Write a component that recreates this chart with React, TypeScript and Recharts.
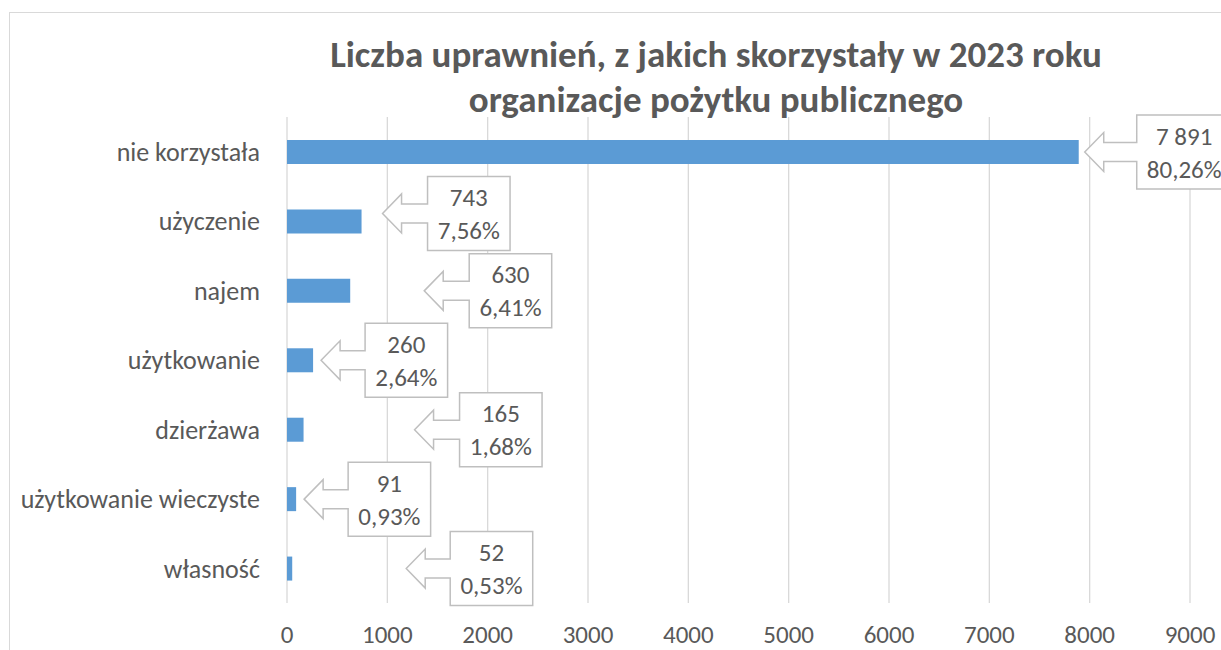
import { BarChart, Bar, XAxis, YAxis, CartesianGrid, LabelList } from 'recharts'

const FONT = 'Calibri, Carlito, Lato, sans-serif'
const TEXT = '#595959'
const GRID = '#d9d9d9'

const categories = [
  'nie korzystała',
  'użyczenie',
  'najem',
  'użytkowanie',
  'dzierżawa',
  'użytkowanie wieczyste',
  'własność',
]
const counts = [7891, 743, 630, 260, 165, 91, 52]
const shares = ['80,26%', '7,56%', '6,41%', '2,64%', '1,68%', '0,93%', '0,53%']
const xTicks = [0, 1000, 2000, 3000, 4000, 5000, 6000, 7000, 8000, 9000]

// where Excel dropped each callout: gap from bar end to arrow tip, vertical shift, shaft length
const calloutGap = [6, 21, 74, 8, 111, 8, 114]
const calloutDy = [0, -8, 0, 0, 0, 0, 0]
const calloutShaft = [33, 26, 26, 25, 26, 25, 25]

const data = categories.map((name, i) => ({ name, value: counts[i], share: shares[i] }))

const fmt = (v: number) => String(v).replace(/\B(?=(\d{3})+(?!\d))/g, ' ')

function Callout(props: any) {
  const { x, y, width, height, index } = props
  const tipX = Number(x) + Number(width) + calloutGap[index]
  const cy = Number(y) + Number(height) / 2 + calloutDy[index]
  const headLen = 19
  const headH = 19.5
  const shaftH = 9.5
  const boxH = 37
  const baseX = tipX + headLen
  const boxL = baseX + calloutShaft[index]
  const label = shares[index]
  const boxW = 20 + 12.5 * label.length
  const d = [
    `M${tipX},${cy}`,
    `L${baseX},${cy - headH}`,
    `L${baseX},${cy - shaftH}`,
    `L${boxL},${cy - shaftH}`,
    `L${boxL},${cy - boxH}`,
    `L${boxL + boxW},${cy - boxH}`,
    `L${boxL + boxW},${cy + boxH}`,
    `L${boxL},${cy + boxH}`,
    `L${boxL},${cy + shaftH}`,
    `L${baseX},${cy + shaftH}`,
    `L${baseX},${cy + headH}`,
    'Z',
  ].join(' ')
  const tx = boxL + boxW / 2
  return (
    <g>
      <path d={d} fill="#fff" stroke="#bfbfbf" strokeWidth={1.5} />
      <text x={tx} y={cy - 16} textAnchor="middle" dominantBaseline="central" fill={TEXT} fontSize={25} fontFamily={FONT}>
        {fmt(counts[index])}
      </text>
      <text x={tx} y={cy + 17} textAnchor="middle" dominantBaseline="central" fill={TEXT} fontSize={25} fontFamily={FONT}>
        {label}
      </text>
    </g>
  )
}

export default function App() {
  return (
    <div style={{ position: 'fixed', left: 0, top: 0, width: 1221, height: 650, overflow: 'hidden', background: '#fff', fontFamily: FONT }}>
      <div style={{ position: 'absolute', left: 9, top: 12, width: 1414, height: 720, border: `1px solid ${GRID}`, boxSizing: 'border-box' }}>
        <BarChart
          width={1412}
          height={637}
          data={data}
          layout="vertical"
          margin={{ top: 104, right: 232, left: 0, bottom: 0 }}
        >
          <CartesianGrid horizontal={false} stroke={GRID} strokeWidth={1.3} />
          <XAxis
            type="number"
            domain={[0, 9000]}
            ticks={xTicks}
            interval={0}
            axisLine={false}
            tickLine={false}
            tickSize={0}
            tickMargin={22}
            height={47}
            tick={{ fill: TEXT, fontSize: 25, fontFamily: FONT }}
          />
          <YAxis
            type="category"
            dataKey="name"
            width={277}
            axisLine={false}
            tickLine={false}
            tickSize={0}
            tickMargin={27}
            interval={0}
            tick={{ fill: TEXT, fontSize: 26, fontFamily: FONT }}
          />
          <Bar dataKey="value" fill="#5b9bd5" barSize={24} isAnimationActive={false}>
            <LabelList dataKey="value" content={Callout} />
          </Bar>
        </BarChart>
        <div
          style={{
            position: 'absolute',
            left: 0,
            top: 19,
            width: '100%',
            textAlign: 'center',
            color: TEXT,
            fontWeight: 'bold',
            fontSize: 37,
            lineHeight: '45px',
          }}
        >
          Liczba uprawnień, z jakich skorzystały w 2023 roku
          <br />
          organizacje pożytku publicznego
        </div>
      </div>
    </div>
  )
}
